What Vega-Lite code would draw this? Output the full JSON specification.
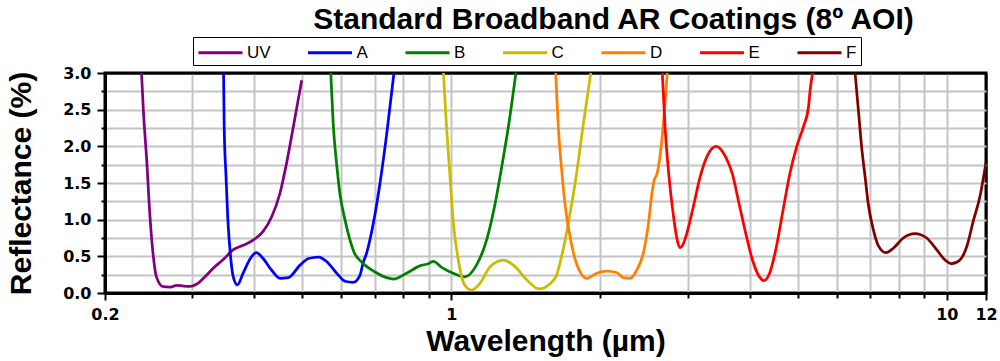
{
  "$schema": "https://vega.github.io/schema/vega-lite/v6.json",
  "width": 881,
  "height": 220,
  "autosize": {"type": "none"},
  "padding": {"left": 105, "top": 73, "right": 14, "bottom": 68},
  "background": "white",
  "title": {
    "text": "Standard Broadband AR Coatings (8º AOI)",
    "font": "Liberation Sans",
    "fontSize": 30,
    "fontWeight": "bold",
    "color": "black",
    "anchor": "middle",
    "dx": 68,
    "offset": -22,
    "baseline": "alphabetic"
  },
  "data": {
    "values": [
      {"s": "UV", "x": 0.237, "y": 3.0},
      {"s": "UV", "x": 0.239, "y": 2.5},
      {"s": "UV", "x": 0.243, "y": 1.77},
      {"s": "UV", "x": 0.246, "y": 1.13},
      {"s": "UV", "x": 0.250, "y": 0.54},
      {"s": "UV", "x": 0.254, "y": 0.22},
      {"s": "UV", "x": 0.262, "y": 0.086},
      {"s": "UV", "x": 0.271, "y": 0.08},
      {"s": "UV", "x": 0.279, "y": 0.105},
      {"s": "UV", "x": 0.288, "y": 0.095},
      {"s": "UV", "x": 0.297, "y": 0.09},
      {"s": "UV", "x": 0.306, "y": 0.12},
      {"s": "UV", "x": 0.316, "y": 0.20},
      {"s": "UV", "x": 0.331, "y": 0.34},
      {"s": "UV", "x": 0.347, "y": 0.46},
      {"s": "UV", "x": 0.363, "y": 0.59},
      {"s": "UV", "x": 0.380, "y": 0.65},
      {"s": "UV", "x": 0.398, "y": 0.72},
      {"s": "UV", "x": 0.417, "y": 0.84},
      {"s": "UV", "x": 0.434, "y": 1.04},
      {"s": "UV", "x": 0.451, "y": 1.36},
      {"s": "UV", "x": 0.465, "y": 1.77},
      {"s": "UV", "x": 0.480, "y": 2.27},
      {"s": "UV", "x": 0.499, "y": 2.90},
      {"s": "A", "x": 0.347, "y": 3.0},
      {"s": "A", "x": 0.348, "y": 2.27},
      {"s": "A", "x": 0.351, "y": 1.59},
      {"s": "A", "x": 0.354, "y": 1.0},
      {"s": "A", "x": 0.358, "y": 0.54},
      {"s": "A", "x": 0.363, "y": 0.22},
      {"s": "A", "x": 0.370, "y": 0.11},
      {"s": "A", "x": 0.380, "y": 0.27},
      {"s": "A", "x": 0.393, "y": 0.47},
      {"s": "A", "x": 0.404, "y": 0.55},
      {"s": "A", "x": 0.417, "y": 0.47},
      {"s": "A", "x": 0.434, "y": 0.31},
      {"s": "A", "x": 0.451, "y": 0.20},
      {"s": "A", "x": 0.469, "y": 0.21},
      {"s": "A", "x": 0.495, "y": 0.38},
      {"s": "A", "x": 0.515, "y": 0.47},
      {"s": "A", "x": 0.540, "y": 0.49},
      {"s": "A", "x": 0.560, "y": 0.43},
      {"s": "A", "x": 0.587, "y": 0.27},
      {"s": "A", "x": 0.610, "y": 0.16},
      {"s": "A", "x": 0.634, "y": 0.145},
      {"s": "A", "x": 0.654, "y": 0.24},
      {"s": "A", "x": 0.663, "y": 0.40},
      {"s": "A", "x": 0.675, "y": 0.55},
      {"s": "A", "x": 0.696, "y": 0.95},
      {"s": "A", "x": 0.718, "y": 1.50},
      {"s": "A", "x": 0.741, "y": 2.18},
      {"s": "A", "x": 0.766, "y": 3.0},
      {"s": "B", "x": 0.571, "y": 3.0},
      {"s": "B", "x": 0.578, "y": 2.27},
      {"s": "B", "x": 0.587, "y": 1.75},
      {"s": "B", "x": 0.596, "y": 1.35},
      {"s": "B", "x": 0.610, "y": 1.0},
      {"s": "B", "x": 0.620, "y": 0.80},
      {"s": "B", "x": 0.636, "y": 0.56},
      {"s": "B", "x": 0.660, "y": 0.42},
      {"s": "B", "x": 0.700, "y": 0.29},
      {"s": "B", "x": 0.740, "y": 0.21},
      {"s": "B", "x": 0.764, "y": 0.19},
      {"s": "B", "x": 0.812, "y": 0.27},
      {"s": "B", "x": 0.864, "y": 0.37},
      {"s": "B", "x": 0.899, "y": 0.40},
      {"s": "B", "x": 0.920, "y": 0.43},
      {"s": "B", "x": 0.956, "y": 0.35},
      {"s": "B", "x": 1.008, "y": 0.27},
      {"s": "B", "x": 1.064, "y": 0.22},
      {"s": "B", "x": 1.124, "y": 0.38},
      {"s": "B", "x": 1.178, "y": 0.72},
      {"s": "B", "x": 1.226, "y": 1.22},
      {"s": "B", "x": 1.264, "y": 1.72},
      {"s": "B", "x": 1.304, "y": 2.27},
      {"s": "B", "x": 1.350, "y": 3.0},
      {"s": "C", "x": 0.964, "y": 3.0},
      {"s": "C", "x": 0.978, "y": 2.27},
      {"s": "C", "x": 0.994, "y": 1.59},
      {"s": "C", "x": 1.008, "y": 1.0},
      {"s": "C", "x": 1.033, "y": 0.45},
      {"s": "C", "x": 1.064, "y": 0.11},
      {"s": "C", "x": 1.100, "y": 0.04},
      {"s": "C", "x": 1.142, "y": 0.13},
      {"s": "C", "x": 1.198, "y": 0.36},
      {"s": "C", "x": 1.274, "y": 0.45},
      {"s": "C", "x": 1.345, "y": 0.36},
      {"s": "C", "x": 1.420, "y": 0.18},
      {"s": "C", "x": 1.504, "y": 0.055},
      {"s": "C", "x": 1.584, "y": 0.13},
      {"s": "C", "x": 1.630, "y": 0.24},
      {"s": "C", "x": 1.684, "y": 0.61},
      {"s": "C", "x": 1.732, "y": 1.04},
      {"s": "C", "x": 1.790, "y": 1.63},
      {"s": "C", "x": 1.844, "y": 2.27},
      {"s": "C", "x": 1.912, "y": 3.0},
      {"s": "D", "x": 1.624, "y": 3.0},
      {"s": "D", "x": 1.644, "y": 2.27},
      {"s": "D", "x": 1.670, "y": 1.68},
      {"s": "D", "x": 1.696, "y": 1.22},
      {"s": "D", "x": 1.732, "y": 0.81},
      {"s": "D", "x": 1.776, "y": 0.47},
      {"s": "D", "x": 1.818, "y": 0.29},
      {"s": "D", "x": 1.876, "y": 0.20},
      {"s": "D", "x": 1.965, "y": 0.27},
      {"s": "D", "x": 2.058, "y": 0.30},
      {"s": "D", "x": 2.156, "y": 0.28},
      {"s": "D", "x": 2.224, "y": 0.21},
      {"s": "D", "x": 2.294, "y": 0.20},
      {"s": "D", "x": 2.366, "y": 0.31},
      {"s": "D", "x": 2.444, "y": 0.56},
      {"s": "D", "x": 2.500, "y": 0.95},
      {"s": "D", "x": 2.543, "y": 1.38},
      {"s": "D", "x": 2.568, "y": 1.54},
      {"s": "D", "x": 2.600, "y": 1.62},
      {"s": "D", "x": 2.656, "y": 2.04},
      {"s": "D", "x": 2.700, "y": 2.59},
      {"s": "D", "x": 2.728, "y": 3.0},
      {"s": "E", "x": 2.666, "y": 3.0},
      {"s": "E", "x": 2.700, "y": 2.27},
      {"s": "E", "x": 2.742, "y": 1.68},
      {"s": "E", "x": 2.796, "y": 1.15},
      {"s": "E", "x": 2.848, "y": 0.77},
      {"s": "E", "x": 2.890, "y": 0.62},
      {"s": "E", "x": 2.935, "y": 0.66},
      {"s": "E", "x": 2.984, "y": 0.80},
      {"s": "E", "x": 3.080, "y": 1.18},
      {"s": "E", "x": 3.180, "y": 1.59},
      {"s": "E", "x": 3.280, "y": 1.86},
      {"s": "E", "x": 3.426, "y": 2.0},
      {"s": "E", "x": 3.576, "y": 1.86},
      {"s": "E", "x": 3.690, "y": 1.63},
      {"s": "E", "x": 3.808, "y": 1.22},
      {"s": "E", "x": 3.930, "y": 0.81},
      {"s": "E", "x": 4.054, "y": 0.45},
      {"s": "E", "x": 4.186, "y": 0.22},
      {"s": "E", "x": 4.274, "y": 0.17},
      {"s": "E", "x": 4.390, "y": 0.27},
      {"s": "E", "x": 4.530, "y": 0.63},
      {"s": "E", "x": 4.672, "y": 1.13},
      {"s": "E", "x": 4.824, "y": 1.63},
      {"s": "E", "x": 4.980, "y": 2.0},
      {"s": "E", "x": 5.138, "y": 2.27},
      {"s": "E", "x": 5.260, "y": 2.54},
      {"s": "E", "x": 5.300, "y": 2.77},
      {"s": "E", "x": 5.360, "y": 3.0},
      {"s": "F", "x": 6.53, "y": 3.0},
      {"s": "F", "x": 6.63, "y": 2.5},
      {"s": "F", "x": 6.73, "y": 2.0},
      {"s": "F", "x": 6.84, "y": 1.59},
      {"s": "F", "x": 6.94, "y": 1.22},
      {"s": "F", "x": 7.11, "y": 0.86},
      {"s": "F", "x": 7.27, "y": 0.65},
      {"s": "F", "x": 7.54, "y": 0.55},
      {"s": "F", "x": 7.80, "y": 0.61},
      {"s": "F", "x": 8.17, "y": 0.75},
      {"s": "F", "x": 8.62, "y": 0.81},
      {"s": "F", "x": 9.11, "y": 0.75},
      {"s": "F", "x": 9.54, "y": 0.59},
      {"s": "F", "x": 9.92, "y": 0.45},
      {"s": "F", "x": 10.23, "y": 0.40},
      {"s": "F", "x": 10.63, "y": 0.45},
      {"s": "F", "x": 10.97, "y": 0.63},
      {"s": "F", "x": 11.31, "y": 0.98},
      {"s": "F", "x": 11.67, "y": 1.32},
      {"s": "F", "x": 12.0, "y": 1.78}
    ]
  },
  "mark": {"type": "line", "strokeWidth": 2.75, "interpolate": "monotone", "clip": true},
  "encoding": {
    "x": {
      "field": "x",
      "type": "quantitative",
      "scale": {"type": "log", "domain": [0.2, 12], "nice": false},
      "axis": {
        "title": "Wavelength (µm)",
        "values": [0.2, 0.3, 0.4, 0.5, 0.6, 0.7, 0.8, 0.9, 1, 2, 3, 4, 5, 6, 7, 8, 9, 10, 12],
        "labelExpr": "datum.value == 0.2 ? '0.2' : datum.value == 1 ? '1' : datum.value == 10 ? '10' : datum.value == 12 ? '12' : ''",
        "labelFont": "DejaVu Sans",
        "labelFontSize": 16,
        "labelFontWeight": "bold",
        "labelColor": "black",
        "labelPadding": 6,
        "labelFlush": false,
        "labelOverlap": false,
        "tickColor": "black",
        "tickWidth": 2,
        "tickSize": {"condition": {"test": "datum.value == 0.2 || datum.value == 1 || datum.value == 10 || datum.value == 12", "value": 7}, "value": 5},
        "grid": true,
        "gridColor": {"condition": {"test": "datum.value == 0.2 || datum.value == 12", "value": "black"}, "value": "#C4C4C4"},
        "gridWidth": 2,
        "domainColor": "black",
        "domainWidth": 3,
        "titleFont": "Liberation Sans",
        "titleFontSize": 30,
        "titleFontWeight": "bold",
        "titleColor": "black",
        "titlePadding": 4
      }
    },
    "y": {
      "field": "y",
      "type": "quantitative",
      "scale": {"domain": [0, 3], "nice": false},
      "axis": {
        "title": "Reflectance (%)",
        "values": [0, 0.25, 0.5, 0.75, 1, 1.25, 1.5, 1.75, 2, 2.25, 2.5, 2.75, 3],
        "labelExpr": "(datum.value * 2) % 1 == 0 ? format(datum.value, '.1f') : ''",
        "labelFont": "DejaVu Sans",
        "labelFontSize": 16,
        "labelFontWeight": "bold",
        "labelColor": "black",
        "labelPadding": 6,
        "labelFlush": false,
        "labelOverlap": false,
        "tickColor": "black",
        "tickWidth": 2,
        "tickSize": {"condition": {"test": "(datum.value * 2) % 1 == 0", "value": 8}, "value": 4},
        "grid": true,
        "gridColor": {"condition": {"test": "datum.value == 0 || datum.value == 3", "value": "black"}, "value": "#C4C4C4"},
        "gridWidth": 2,
        "domainColor": "black",
        "domainWidth": 3,
        "titleFont": "Liberation Sans",
        "titleFontSize": 30,
        "titleFontWeight": "bold",
        "titleColor": "black",
        "titlePadding": 26
      }
    },
    "color": {
      "field": "s",
      "type": "nominal",
      "scale": {
        "domain": ["UV", "A", "B", "C", "D", "E", "F"],
        "range": ["#800080", "#0000FF", "#008000", "#CCBB00", "#FF8000", "#FF0000", "#800000"]
      },
      "legend": {
        "title": null,
        "orient": "none",
        "legendX": 88,
        "legendY": -36,
        "direction": "horizontal",
        "columns": 7,
        "gridAlign": "each",
        "columnPadding": 30.5,
        "symbolType": "M-1,0H3.4",
        "symbolSize": 400,
        "symbolStrokeWidth": 3,
        "labelFont": "Liberation Sans",
        "labelFontSize": 17,
        "labelColor": "black",
        "labelOffset": 27,
        "padding": 4,
        "strokeColor": "black",
        "fillColor": "white"
      }
    }
  },
  "config": {
    "view": {"stroke": "black", "strokeWidth": 3}
  }
}
